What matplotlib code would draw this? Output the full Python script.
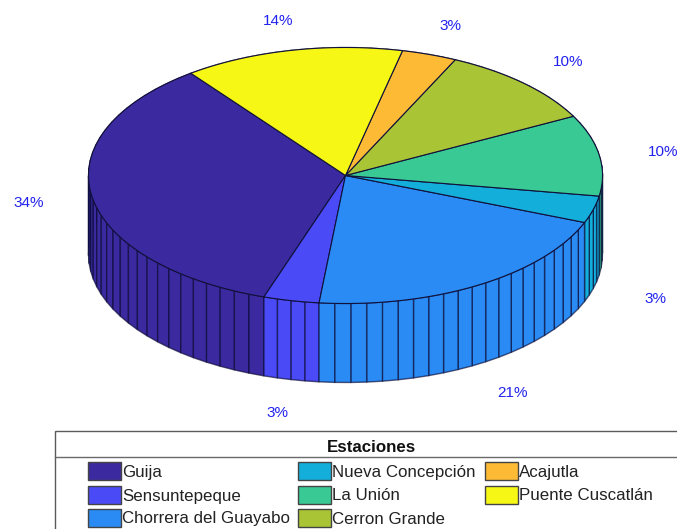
import numpy as np
import matplotlib
matplotlib.use("Agg")
import matplotlib.pyplot as plt
from matplotlib.patches import Polygon, Rectangle

plt.rcParams["font.family"] = ["Liberation Sans", "DejaVu Sans"]

# Annual share per station, in percent
stations = ["Guija", "Sensuntepeque", "Chorrera del Guayabo", "Nueva Concepción",
            "La Unión", "Cerron Grande", "Acajutla", "Puente Cuscatlán"]
shares = [34.49, 3.49, 20.6, 3.4, 10.2, 10.3, 3.45, 13.8]
colors = ["#3B2A9F", "#4A4AF6", "#2A8BF4", "#14AEDA",
          "#39C994", "#A9C535", "#FDBB35", "#F6F714"]
legend_title = "Estaciones"

W, H = 677, 529
CX, CY, RX, RY, DEPTH = 345.5, 175.5, 257.0, 128.0, 79.0
START_DEG = 127.0
EDGE = "#10103a"
WALL_EDGE = (0.03, 0.03, 0.2, 0.65)
LABEL_BLUE = "#2222EE"

fig = plt.figure(figsize=(W / 100, H / 100), dpi=100)
ax = fig.add_axes([0, 0, 1, 1])
ax.set_xlim(0, W)
ax.set_ylim(H, 0)
ax.axis("off")


def rim(t_deg, drop=0.0):
    t = np.radians(t_deg)
    return CX + RX * np.cos(t), CY - RY * np.sin(t) + drop


fractions = np.array(shares, dtype=float) / sum(shares)
edges = START_DEG + 360.0 * np.concatenate([[0], np.cumsum(fractions)])

# Side wall: one quad per facet, farthest facets painted first
facets = []
for i, frac in enumerate(fractions):
    n = int(np.ceil(100 * frac))
    ts = np.linspace(edges[i], edges[i + 1], n + 1)
    for a, b in zip(ts[:-1], ts[1:]):
        facets.append((np.sin(np.radians((a + b) / 2)), a, b, colors[i]))
facets.sort(key=lambda f: -f[0])
for _, a, b, c in facets:
    pts = [rim(a), rim(b), rim(b, DEPTH), rim(a, DEPTH)]
    ax.add_patch(Polygon(pts, closed=True, facecolor=c, edgecolor=WALL_EDGE,
                         linewidth=1.0, joinstyle="round"))

# Top face
for i in range(len(shares)):
    ts = np.linspace(edges[i], edges[i + 1], 120)
    x, y = rim(ts)
    pts = np.column_stack([np.r_[CX, x], np.r_[CY, y]])
    ax.add_patch(Polygon(pts, closed=True, facecolor=colors[i], edgecolor=EDGE,
                         linewidth=0.8, joinstyle="round"))

# Percentage labels sit outside the rim; front slices drop to the lower rim
for i, s in enumerate(shares):
    mid = (edges[i] + edges[i + 1]) / 2
    t = np.radians(mid)
    x = CX + 1.25 * RX * np.cos(t)
    y = CY - 1.25 * RY * np.sin(t) + 2
    if 200 < (mid % 360) < 360:
        y += DEPTH
    ax.text(x, y, f"{s:.0f}%", color=LABEL_BLUE, fontsize=11, ha="center", va="center")

# Legend panel, running off the right and bottom of the figure
ax.add_patch(Rectangle((55, 431), 700, 150, facecolor="white",
                       edgecolor="#5a5a5a", linewidth=1.0))
ax.plot([55, W], [457, 457], color="#6a6a6a", linewidth=1.0)
ax.text(371, 447, legend_title, fontsize=12.2, fontweight="bold",
        ha="center", va="center", color="#111111")

col_x = [88, 298, 485]
row_y = [471, 495, 518]
for i, name in enumerate(stations):
    col, row = min(i // 3, 2), i % 3
    if i >= 6:
        row = i - 6
    px, py = col_x[col], row_y[row]
    ax.add_patch(Rectangle((px, py - 9), 33, 18, facecolor=colors[i],
                           edgecolor="#444444", linewidth=1.0))
    ax.text(px + 34, py + 1, name, fontsize=12.2, ha="left", va="center", color="#222222")

fig.savefig("out.png", dpi=100)
